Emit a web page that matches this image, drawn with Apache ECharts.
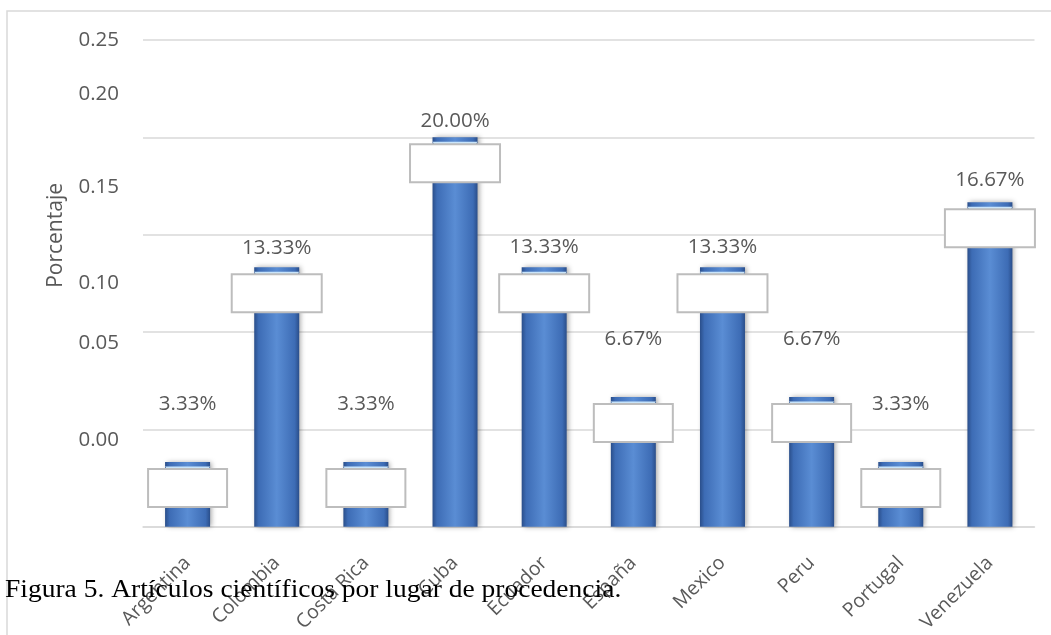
<!DOCTYPE html>
<html>
<head>
<meta charset="utf-8">
<script src="https://cdn.jsdelivr.net/npm/echarts@6/dist/echarts.min.js"></script>
<style>
html,body{margin:0;padding:0;background:#fff;}
#chart{width:1051px;height:635px;}
</style>
</head>
<body>
<div id="chart"></div>
<script>
// ---- data ----
var categories = ['Argentina','Colombia','Costa Rica','Cuba','Ecuador','España','Mexico','Peru','Portugal','Venezuela'];
var shares = [0.03333, 0.13333, 0.03333, 0.20, 0.13333, 0.06667, 0.13333, 0.06667, 0.03333, 0.16667];
var yTickLabels = ['0.00','0.05','0.10','0.15','0.20','0.25'];
// where each tick label sits on the value scale (as drawn in the source, offset from the gridlines)
var yTickLabelAt = [0.0444, 0.0944, 0.125, 0.1745, 0.2224, 0.2499];
var captionText = 'Figura 5. Artículos científicos por lugar de procedencia.';
var yAxisName = 'Porcentaje';

// ---- styles (per-bar) ----
var labelLift = [46, 7, 46, 4, 8, 46, 8, 46, 46, 10];
var boxWidth = [77, 88, 77, 88, 88, 77, 88, 77, 77, 88];

var FONT = 'Open Sans';
var chart = echarts.init(document.getElementById('chart'));

var barData = shares.map(function (v, i) {
  return { value: v, label: { distance: labelLift[i] } };
});
var boxData = shares.map(function (v, i) {
  return { value: v, label: { width: boxWidth[i] } };
});

var option = {
  animation: false,
  backgroundColor: '#fff',
  graphic: [{
    type: 'rect', z: -1, silent: true,
    shape: { x: 7, y: 11, width: 1080, height: 660 },
    style: { fill: 'none', stroke: '#d9d9d9', lineWidth: 1.5 }
  }, {
    type: 'text', z: 100, silent: true,
    x: 5, y: 590, scaleX: 1.1, scaleY: 1,
    style: {
      text: captionText, fill: '#000',
      font: '25px "Liberation Serif"', align: 'left', verticalAlign: 'middle'
    }
  }],
  grid: { left: 143, right: 16.5, top: 40, bottom: 105, containLabel: false },
  xAxis: {
    type: 'category',
    data: categories,
    axisLine: { show: true, lineStyle: { color: '#d9d9d9', width: 1.5 } },
    axisTick: { show: false },
    axisLabel: { rotate: 45, margin: 33, color: '#595959', fontFamily: FONT, fontSize: 19.5, interval: 0 }
  },
  yAxis: [{
    type: 'value', min: 0, max: 0.25, interval: 0.05,
    axisLine: { show: false }, axisTick: { show: false },
    axisLabel: { show: false },
    splitLine: { lineStyle: { color: '#d9d9d9', width: 1.5 } },
    name: yAxisName, nameLocation: 'middle', nameGap: 76,
    nameTextStyle: { color: '#595959', fontFamily: FONT, fontSize: 21, padding: [0, 0, 0, 96] }
  }, {
    type: 'value', min: 0, max: 0.25, position: 'left',
    axisLine: { show: false }, axisTick: { show: false }, splitLine: { show: false },
    axisLabel: {
      customValues: yTickLabelAt, margin: 24,
      color: '#595959', fontFamily: FONT, fontSize: 20.5,
      formatter: function (val) {
        var best = 0, d = Infinity;
        for (var i = 0; i < yTickLabelAt.length; i++) {
          var dd = Math.abs(yTickLabelAt[i] - val);
          if (dd < d) { d = dd; best = i; }
        }
        return yTickLabels[best];
      }
    }
  }],
  series: [{
    type: 'bar', name: 'main', barWidth: 45, barGap: '-100%', z: 2,
    data: barData,
    itemStyle: {
      color: new echarts.graphic.LinearGradient(0, 0, 1, 0, [
        { offset: 0, color: '#2a4e8a' },
        { offset: 0.1, color: '#3d6cb5' },
        { offset: 0.5, color: '#5a8dd4' },
        { offset: 0.9, color: '#3d6cb5' },
        { offset: 1, color: '#2a4e8a' }
      ]),
      shadowColor: 'rgba(0,0,0,0.35)', shadowBlur: 5, shadowOffsetX: 2, shadowOffsetY: 0
    },
    label: {
      show: true, position: 'top', color: '#595959', fontFamily: FONT, fontSize: 20.5, lineHeight: 24,
      formatter: function (p) { return (p.value * 100).toFixed(2) + '%'; }
    }
  }, {
    type: 'pictorialBar', name: 'cap', z: 3, silent: true,
    data: shares,
    symbol: 'path://M0,0 L45,0 L39,9 L6,9 Z',
    symbolSize: [45, 9], symbolPosition: 'end', symbolOffset: [0, '50%'],
    itemStyle: {
      color: new echarts.graphic.LinearGradient(0, 0, 0, 1, [
        { offset: 0, color: '#cfe8fb' },
        { offset: 1, color: '#8fc3ef' }
      ])
    }
  }, {
    type: 'bar', name: 'box', barWidth: 45, barGap: '-100%', z: 5, silent: true,
    data: boxData,
    itemStyle: { color: 'rgba(0,0,0,0)' },
    label: {
      show: true, position: 'insideTop', distance: 8,
      formatter: function () { return ' '; },
      height: 36, padding: 0, backgroundColor: '#fff',
      borderColor: '#bdbdbd', borderWidth: 2
    }
  }]
};
chart.setOption(option);
</script>
</body>
</html>
